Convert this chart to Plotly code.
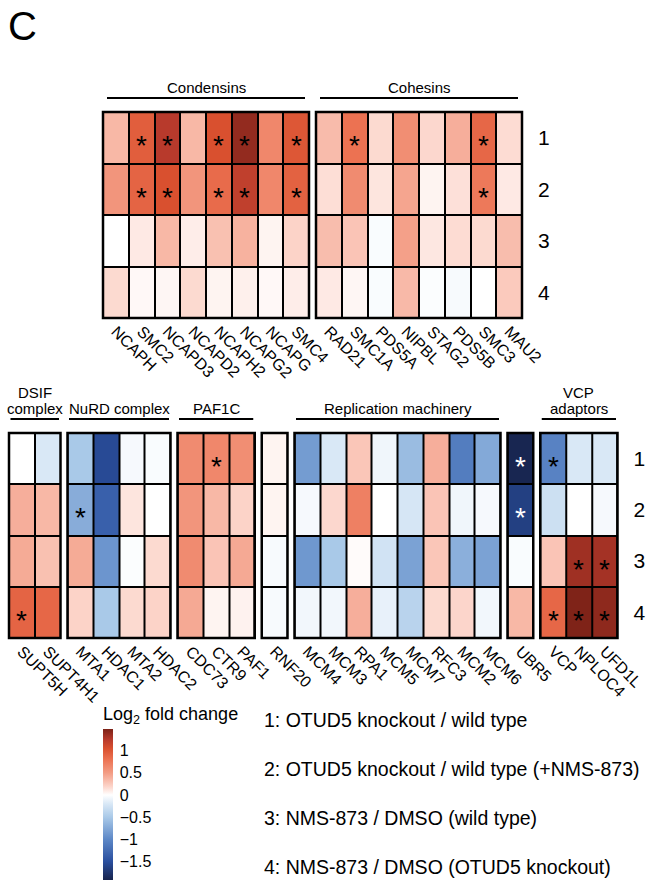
import plotly.graph_objects as go

# ---------------- data ----------------
rows = [1, 2, 3, 4]

condensins = ["NCAPH", "SMC2", "NCAPD3", "NCAPD2", "NCAPH2", "NCAPG2", "NCAPG", "SMC4"]
condensins_vals = [
    [0.35, 0.95, 1.25, 0.35, 1.05, 1.40, 0.65, 1.00],
    [0.55, 0.90, 1.05, 0.55, 0.85, 1.20, 0.65, 0.92],
    [0.00, 0.10, 0.35, 0.08, 0.30, 0.38, 0.05, 0.20],
    [0.17, 0.03, 0.04, 0.17, 0.05, 0.07, 0.03, 0.08],
]
condensins_sig = [
    [0, 1, 1, 0, 1, 1, 0, 1],
    [0, 1, 1, 0, 1, 1, 0, 1],
    [0, 0, 0, 0, 0, 0, 0, 0],
    [0, 0, 0, 0, 0, 0, 0, 0],
]

cohesins = ["RAD21", "SMC1A", "PDS5A", "NIPBL", "STAG2", "PDS5B", "SMC3", "MAU2"]
cohesins_vals = [
    [0.33, 0.80, 0.17, 0.60, 0.18, 0.40, 0.88, 0.16],
    [0.15, 0.62, 0.12, 0.45, 0.05, 0.14, 0.75, 0.10],
    [0.32, 0.28, -0.03, 0.48, 0.11, 0.16, 0.17, 0.32],
    [0.10, 0.04, -0.03, 0.34, -0.02, -0.04, 0.00, 0.25],
]
cohesins_sig = [
    [0, 1, 0, 0, 0, 0, 1, 0],
    [0, 0, 0, 0, 0, 0, 1, 0],
    [0, 0, 0, 0, 0, 0, 0, 0],
    [0, 0, 0, 0, 0, 0, 0, 0],
]

dsif = ["SUPT5H", "SUPT4H1"]
dsif_vals = [[0.00, -0.20], [0.40, 0.35], [0.42, 0.30], [0.90, 0.88]]
dsif_sig = [[0, 0], [0, 0], [0, 0], [1, 0]]

nurd = ["MTA1", "HDAC1", "MTA2", "HDAC2"]
nurd_vals = [
    [-0.50, -1.55, -0.05, -0.03],
    [-0.72, -1.35, 0.12, 0.00],
    [0.42, -0.90, -0.02, 0.17],
    [0.20, -0.50, 0.17, 0.20],
]
nurd_sig = [[0, 0, 0, 0], [1, 0, 0, 0], [0, 0, 0, 0], [0, 0, 0, 0]]

paf1c = ["CDC73", "CTR9", "PAF1"]
paf1c_vals = [[0.62, 0.65, 0.60], [0.55, 0.35, 0.20], [0.62, 0.28, 0.43], [0.43, 0.05, 0.06]]
paf1c_sig = [[0, 1, 0], [0, 0, 0], [0, 0, 0], [0, 0, 0]]

rnf = ["RNF20"]
rnf_vals = [[0.05], [0.05], [-0.04], [-0.04]]
rnf_sig = [[0], [0], [0], [0]]

replication = ["MCM4", "MCM3", "RPA1", "MCM5", "MCM7", "RFC3", "MCM2", "MCM6"]
replication_vals = [
    [-0.85, -0.20, 0.27, -0.08, -0.60, 0.40, -1.10, -0.75],
    [-0.05, 0.18, 0.70, 0.00, -0.22, 0.28, -0.08, -0.05],
    [-0.88, -0.50, 0.02, -0.25, -0.80, 0.27, -0.70, -0.80],
    [-0.07, -0.07, 0.40, -0.12, -0.40, 0.17, 0.19, -0.07],
]
replication_sig = [[0] * 8, [0] * 8, [0] * 8, [0] * 8]

ubr5 = ["UBR5"]
ubr5_vals = [[-1.90], [-1.65], [-0.03], [0.35]]
ubr5_sig = [[1], [1], [0], [0]]

vcp = ["VCP", "NPLOC4", "UFD1L"]
vcp_vals = [[-1.05, -0.20, -0.20], [-0.28, 0.00, -0.05], [0.28, 1.35, 1.33], [0.88, 1.48, 1.42]]
vcp_sig = [[1, 0, 0], [0, 0, 0], [0, 1, 1], [1, 1, 1]]

legend_lines = [
    "1: OTUD5 knockout / wild type",
    "2: OTUD5 knockout / wild type (+NMS-873)",
    "3: NMS-873 / DMSO (wild type)",
    "4: NMS-873 / DMSO (OTUD5 knockout)",
]
cbar_ticks = [-1.5, -1, -0.5, 0, 0.5, 1]

# ---------------- style ----------------
W, H = 646, 882
FONT = "Liberation Sans, Arial, Helvetica, sans-serif"
ZMIN, ZMAX = -1.92, 1.49
stops = [(-1.92, "#17244d"), (-1.5, "#2a4f9f"), (-1.0, "#5d88c7"), (-0.5, "#a9c9e8"),
         (-0.2, "#d9e8f6"), (0.0, "#ffffff"), (0.2, "#fcd3c8"), (0.5, "#f39c84"),
         (0.8, "#ec7252"), (1.05, "#d9502f"), (1.25, "#b83a2c"), (1.49, "#7c2217")]
colorscale = [[(v - ZMIN) / (ZMAX - ZMIN), c] for v, c in stops]


def px(x):
    return x / W


def py(y):
    return 1 - y / H


CW = 25.75   # column width px
GAP = 7      # gap between panels px

panels = [
    # genes, vals, sig, star colour, title, row
    (condensins, condensins_vals, condensins_sig, "black", "Condensins", "top"),
    (cohesins, cohesins_vals, cohesins_sig, "black", "Cohesins", "top"),
    (dsif, dsif_vals, dsif_sig, "black", "DSIF\ncomplex", "bot"),
    (nurd, nurd_vals, nurd_sig, "black", "NuRD complex", "bot"),
    (paf1c, paf1c_vals, paf1c_sig, "black", "PAF1C", "bot"),
    (rnf, rnf_vals, rnf_sig, "black", "", "bot"),
    (replication, replication_vals, replication_sig, "black", "Replication machinery", "bot"),
    (ubr5, ubr5_vals, ubr5_sig, "white", "", "bot"),
    (vcp, vcp_vals, vcp_sig, "black", "VCP\nadaptors", "bot"),
]

row_geom = {
    "top": dict(x0=103, ytop=112, ybot=318, yaxis="y", title_y=87, line_y=98, inset=4),
    "bot": dict(x0=9, ytop=433, ybot=638, yaxis="y2", title_y=408, line_y=419, inset=1.5),
}

fig = go.Figure()
layout = dict(
    width=W, height=H, margin=dict(l=0, r=0, t=0, b=0, autoexpand=False),
    paper_bgcolor="white", plot_bgcolor="black",
    font=dict(family=FONT, color="black"),
    showlegend=False,
)
shapes, annotations = [], []
cursor = {"top": row_geom["top"]["x0"], "bot": row_geom["bot"]["x0"]}
last_axis = {}

for k, (genes, vals, sig, scol, title, row) in enumerate(panels, start=1):
    g = row_geom[row]
    x0 = cursor[row]
    x1 = x0 + CW * len(genes)
    cursor[row] = x1 + GAP
    xa = "x" if k == 1 else f"x{k}"
    xkey = "xaxis" if k == 1 else f"xaxis{k}"
    ya = g["yaxis"]
    last_axis[row] = xa
    fig.add_trace(go.Heatmap(
        z=vals, x=genes, y=rows, xaxis=xa, yaxis=ya,
        zmin=ZMIN, zmax=ZMAX, colorscale=colorscale,
        xgap=2, ygap=2, showscale=(k == 1), hoverinfo="skip",
        colorbar=dict(
            x=px(103), xanchor="left", y=py(729), yanchor="top",
            lenmode="pixels", len=151, thickness=10, xpad=0, ypad=0,
            outlinewidth=0, tickvals=cbar_ticks, ticks="outside", ticklen=4,
            tickcolor="rgba(0,0,0,0)", tickfont=dict(size=16, family=FONT),
        ),
    ))
    layout[xkey] = dict(
        domain=[px(x0), px(x1)], anchor=ya, range=[-0.5, len(genes) - 0.5],
        tickangle=45, ticks="", showgrid=False, zeroline=False, showline=False,
        automargin=False, tickfont=dict(size=16, family=FONT), fixedrange=True,
    )
    # outer frame
    shapes.append(dict(type="rect", xref=f"{xa} domain", yref=f"{ya} domain",
                       x0=0, x1=1, y0=0, y1=1, line=dict(color="black", width=2.5)))
    # significance stars
    for ri, r in enumerate(rows):
        for ci, gname in enumerate(genes):
            if sig[ri][ci]:
                annotations.append(dict(
                    x=gname, y=r, xref=xa, yref=ya, text="*", showarrow=False,
                    font=dict(size=28, color=scol, family=FONT), yshift=-8,
                ))
    # group title + line
    if title:
        lx0, lx1 = x0 + g["inset"], x1 - g["inset"]
        shapes.append(dict(type="line", xref="paper", yref="paper",
                           x0=px(lx0), x1=px(lx1), y0=py(g["line_y"]), y1=py(g["line_y"]),
                           line=dict(color="black", width=2)))
        lines = title.split("\n")
        for li, t in enumerate(lines):
            yy = g["title_y"] - 15 * (len(lines) - 1 - li)
            annotations.append(dict(
                x=px((x0 + x1) / 2), y=py(yy), xref="paper", yref="paper",
                text=t, showarrow=False, xanchor="center", yanchor="middle",
                font=dict(size=15, family=FONT),
            ))

for row, g in row_geom.items():
    ykey = "yaxis" if g["yaxis"] == "y" else "yaxis2"
    layout[ykey] = dict(
        domain=[py(g["ybot"]), py(g["ytop"])], anchor=last_axis[row], side="right",
        range=[4.5, 0.5], tickvals=rows, ticks="", ticklabelstandoff=15,
        showgrid=False, zeroline=False, showline=False, automargin=False,
        tickfont=dict(size=21, family=FONT), fixedrange=True,
    )

# panel letter
annotations.append(dict(x=px(6), y=py(26), xref="paper", yref="paper", text="C",
                        showarrow=False, xanchor="left", yanchor="middle",
                        font=dict(size=40, family=FONT)))
# colorbar title
annotations.append(dict(x=px(101), y=py(715), xref="paper", yref="paper",
                        text="Log<sub>2</sub> fold change", showarrow=False,
                        xanchor="left", yanchor="middle", font=dict(size=18, family=FONT)))
# condition legend
for i, t in enumerate(legend_lines):
    annotations.append(dict(x=px(262), y=py(720 + 49 * i), xref="paper", yref="paper",
                            text=t, showarrow=False, xanchor="left", yanchor="middle",
                            font=dict(size=19.5, family=FONT)))

layout["shapes"] = shapes
layout["annotations"] = annotations
fig.update_layout(**layout)
fig.write_html("out.html")
